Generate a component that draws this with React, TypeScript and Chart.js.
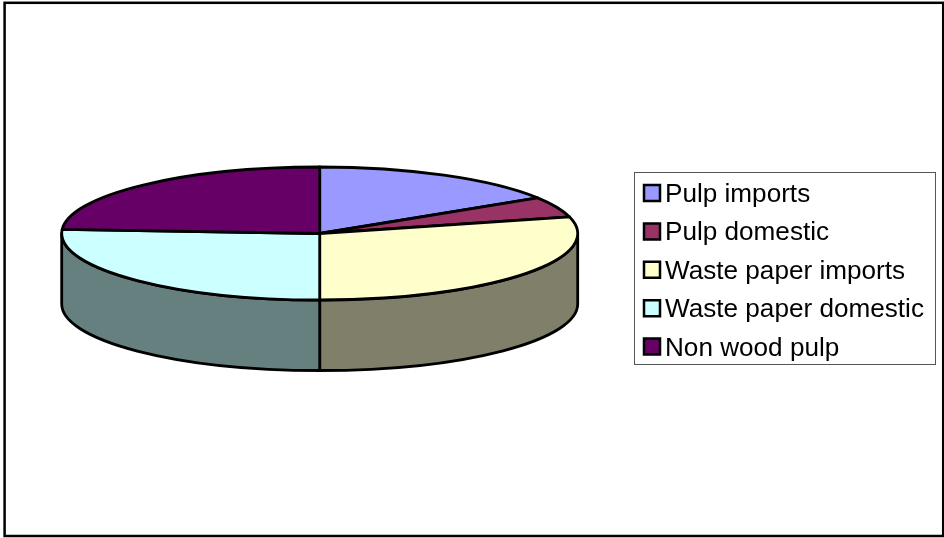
import { useEffect, useRef } from "react";
import { Chart, registerables } from "chart.js";

Chart.register(...registerables);

const categories = [
  "Pulp imports",
  "Pulp domestic",
  "Waste paper imports",
  "Waste paper domestic",
  "Non wood pulp",
];
const shares = [16, 5, 29, 26, 24];
const sliceColors = ["#9999FF", "#993366", "#FFFFCC", "#CCFFFF", "#660066"];
const wallColors = ["#4C4C80", "#4C1933", "#80806A", "#668080", "#330033"];

const TILT = 66.5 / 258;
const DEPTH = 70.5;
const LINE = 2.8;

// Flattened cylinder: front walls first, then the elliptical top wedges.
const cylinderPie = {
  id: "cylinderPie",
  beforeDatasetsDraw(chart: any) {
    const { ctx } = chart;
    const arcs = chart.getDatasetMeta(0).data;
    ctx.save();
    ctx.lineJoin = "round";
    ctx.lineCap = "round";
    ctx.lineWidth = LINE;
    ctx.strokeStyle = "#000";

    arcs.forEach((arc: any, i: number) => {
      const a = Math.max(arc.startAngle, 0);
      const b = Math.min(arc.endAngle, Math.PI);
      if (b <= a) return;
      const rx = arc.outerRadius;
      const ry = rx * TILT;
      ctx.beginPath();
      ctx.ellipse(arc.x, arc.y, rx, ry, 0, a, b);
      ctx.lineTo(arc.x + rx * Math.cos(b), arc.y + ry * Math.sin(b) + DEPTH);
      ctx.ellipse(arc.x, arc.y + DEPTH, rx, ry, 0, b, a, true);
      ctx.closePath();
      ctx.fillStyle = wallColors[i];
      ctx.fill();
      ctx.stroke();
    });

    arcs.forEach((arc: any) => {
      const rx = arc.outerRadius;
      ctx.beginPath();
      ctx.moveTo(arc.x, arc.y);
      ctx.ellipse(arc.x, arc.y, rx, rx * TILT, 0, arc.startAngle, arc.endAngle);
      ctx.closePath();
      ctx.fillStyle = arc.options.backgroundColor;
      ctx.fill();
      ctx.stroke();
    });

    ctx.restore();
    return false;
  },
};

// Outer frame and the boxed key to the right of the pie.
const framedKey = {
  id: "framedKey",
  beforeDraw(chart: any) {
    const { ctx, width, height } = chart;
    ctx.save();
    ctx.fillStyle = "#fff";
    ctx.fillRect(0, 0, width, height);
    ctx.strokeStyle = "#000";
    ctx.lineWidth = 2.5;
    ctx.strokeRect(4.6, 2.8, 938.6, 533.2);
    ctx.restore();
  },
  afterDraw(chart: any) {
    const { ctx } = chart;
    const colors = chart.data.datasets[0].backgroundColor;
    ctx.save();
    ctx.strokeStyle = "#555";
    ctx.lineWidth = 1;
    ctx.strokeRect(634.5, 172.5, 301, 192);
    ctx.textBaseline = "alphabetic";
    ctx.font = '25px "Liberation Sans"';
    chart.data.labels.forEach((label: string, i: number) => {
      const baseline = 202 + i * 38.4;
      ctx.fillStyle = colors[i];
      ctx.strokeStyle = "#000";
      ctx.lineWidth = 2.5;
      ctx.beginPath();
      ctx.rect(644, baseline - 17, 16, 16);
      ctx.fill();
      ctx.stroke();
      ctx.save();
      ctx.translate(665, baseline);
      ctx.scale(1.045, 1);
      ctx.fillStyle = "#000";
      ctx.fillText(label, 0, 0);
      ctx.restore();
    });
    ctx.restore();
  },
};

export default function App() {
  const canvasRef = useRef<HTMLCanvasElement | null>(null);

  useEffect(() => {
    const chart = new Chart(canvasRef.current as HTMLCanvasElement, {
      type: "pie",
      data: {
        labels: categories,
        datasets: [
          {
            data: shares,
            backgroundColor: sliceColors,
            borderColor: "#000",
            borderWidth: 2,
          },
        ],
      },
      options: {
        responsive: false,
        animation: false,
        radius: 258,
        layout: { padding: { left: 0, right: 304.6, top: 0, bottom: 71 } },
        plugins: { legend: { display: false }, tooltip: { enabled: false } },
      },
      plugins: [framedKey, cylinderPie],
    } as any);
    return () => chart.destroy();
  }, []);

  return (
    <div style={{ position: "fixed", left: 0, top: 0, width: 944, height: 538 }}>
      <canvas ref={canvasRef} width={944} height={538} style={{ display: "block" }} />
    </div>
  );
}
